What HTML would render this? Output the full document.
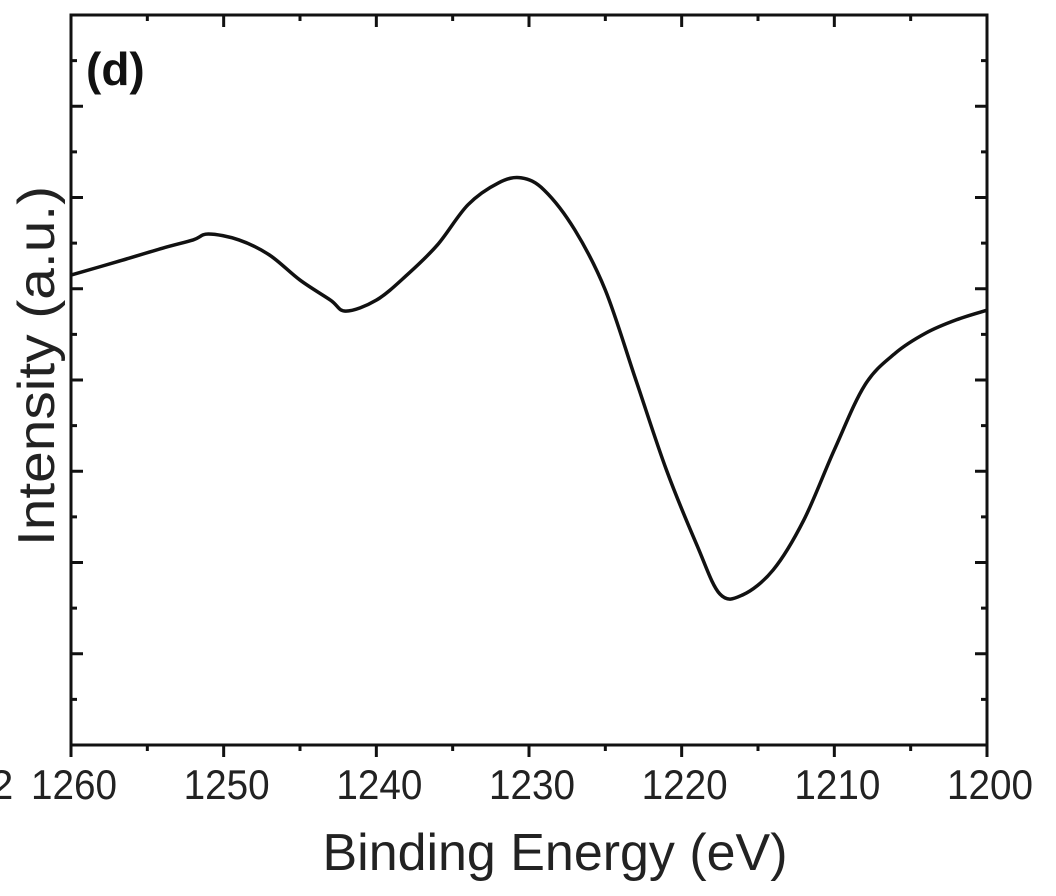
<!DOCTYPE html>
<html><head><meta charset="utf-8"><style>
html,body{margin:0;padding:0;background:#fff;}
svg{display:block;font-family:"Liberation Sans",Arial,sans-serif;}
</style></head><body>
<svg id="chart" width="1056" height="896" viewBox="0 0 1056 896"></svg>
<script>
const energies=[1260,1257,1254,1252,1251,1249,1247,1245,1243,1242,1240,1238,1236,1234,1232,1230.5,1229,1227,1225,1223,1221,1219,1217.5,1216,1214,1212,1210,1208,1206,1204,1202,1200];
const intensity=[10.30,10.59,10.89,11.07,11.20,11.07,10.74,10.19,9.75,9.51,9.75,10.30,10.96,11.84,12.32,12.43,12.16,11.29,9.97,8.0,6.03,4.38,3.31,3.29,3.84,4.93,6.47,7.89,8.59,9.03,9.32,9.53];
const xTickLabels=[1260,1250,1240,1230,1220,1210,1200];
const xMinorTicks=[1255,1245,1235,1225,1215,1205];
const yTicks=[0,1,2,3,4,5,6,7,8,9,10,11,12,13,14,15,16];

const L=71,R=987,T=15,B=745;
const xs=e=>L+(1260-e)/60*(R-L);
const ys=v=>B-v/16*(B-T);
const svg=document.getElementById('chart');
const NS='http://www.w3.org/2000/svg';
function mk(tag,attrs,parent){const el=document.createElementNS(NS,tag);for(const k in attrs)el.setAttribute(k,attrs[k]);(parent||svg).appendChild(el);return el;}

const frame=mk('rect',{x:L,y:T,width:R-L,height:B-T,fill:'none',stroke:'#111','stroke-width':3});



const ticks=mk('g',{stroke:'#111','stroke-width':3});


xTickLabels.forEach(e=>{const x=xs(e);mk('line',{x1:x,x2:x,y1:B,y2:B+12},ticks);mk('line',{x1:x,x2:x,y1:T,y2:T+12},ticks);});
xMinorTicks.forEach(e=>{const x=xs(e);mk('line',{x1:x,x2:x,y1:B,y2:B+6},ticks);mk('line',{x1:x,x2:x,y1:T,y2:T+6},ticks);});
yTicks.forEach(v=>{const y=ys(v);const len=(v%2===0)?12:6;mk('line',{x1:L,x2:L+len,y1:y,y2:y},ticks);mk('line',{x1:R,x2:R-len,y1:y,y2:y},ticks);});

const lab=mk('g',{'font-size':42,fill:'#222','text-anchor':'middle'});


xTickLabels.forEach(e=>{const t=mk('text',{x:xs(e)+3,y:799,textLength:86,lengthAdjust:'spacingAndGlyphs'},lab);t.textContent=e;});
const stray=mk('text',{x:-10,y:799,'font-size':42,fill:'#222'});stray.textContent='2';



const pts=energies.map((e,i)=>[xs(e),ys(intensity[i])]);
let d='M'+pts[0][0]+','+pts[0][1];
for(let i=0;i<pts.length-1;i++){const p0=pts[Math.max(0,i-1)],p1=pts[i],p2=pts[i+1],p3=pts[Math.min(pts.length-1,i+2)];
const c1=[p1[0]+(p2[0]-p0[0])/6,p1[1]+(p2[1]-p0[1])/6],c2=[p2[0]-(p3[0]-p1[0])/6,p2[1]-(p3[1]-p1[1])/6];
d+=' C'+c1[0]+','+c1[1]+' '+c2[0]+','+c2[1]+' '+p2[0]+','+p2[1];}
const line=mk('path',{d:d,fill:'none',stroke:'#111','stroke-width':3.5,'stroke-linejoin':'round'});



const pl=mk('text',{x:86,y:85,'font-size':46,'font-weight':'bold',fill:'#111'});pl.textContent='(d)';


const xt=mk('text',{x:555,y:870,'font-size':52,fill:'#222','text-anchor':'middle',textLength:465,lengthAdjust:'spacingAndGlyphs'});xt.textContent='Binding Energy (eV)';


const yt=mk('text',{x:0,y:0,'font-size':52,fill:'#222','text-anchor':'middle',textLength:360,lengthAdjust:'spacingAndGlyphs',transform:'translate(54,366) rotate(-90)'});yt.textContent='Intensity (a.u.)';


</script>
</body></html>
